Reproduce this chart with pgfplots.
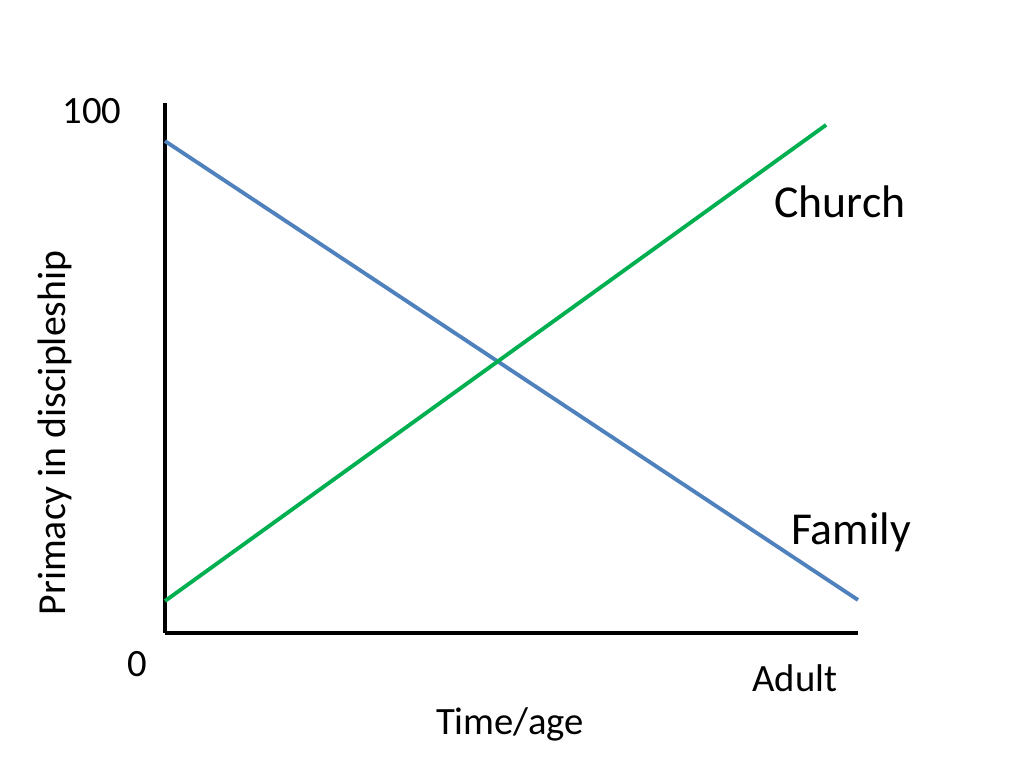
\documentclass[border=0pt]{standalone}
\usepackage{pgfplots}
\pgfplotsset{compat=1.18}
\usepackage{fontspec}
\setmainfont{Carlito}
\definecolor{famblue}{HTML}{4F81BD}
\definecolor{chgreen}{HTML}{00B050}
\begin{document}
\begin{tikzpicture}
  \path (0,0) rectangle (10.24,7.68);
  \begin{axis}[
      at={(1.65cm,1.35cm)}, anchor=south west,
      scale only axis,
      width=6.93cm, height=5.30cm,
      xmin=0, xmax=100, ymin=0, ymax=101.92,
      axis x line=bottom, axis y line=left,
      axis line style={-, line width=1.3pt, black},
      xtick=\empty, ytick=\empty,
      clip=false,
    ]
    % Family
    \addplot[color=famblue, line width=1.1pt] coordinates {(0,94.6) (100,6.35)};
    % Church
    \addplot[color=chgreen, line width=1.1pt] coordinates {(0,6.15) (95.4,97.7)};
  \end{axis}
  \node[anchor=base, font=\fontsize{11}{13}\selectfont] at (0.92,6.44) {100};
  \node[anchor=base, font=\fontsize{11}{13}\selectfont] at (1.37,0.91) {0};
  \node[anchor=base, font=\fontsize{11}{13}\selectfont] at (7.95,0.76) {Adult};
  \node[anchor=base, font=\fontsize{11}{13}\selectfont] at (5.10,0.33) {Time/age};
  \node[rotate=90, font=\fontsize{11.3}{13}\selectfont] at (0.55,3.35) {Primacy in discipleship};
  \node[anchor=base, font=\fontsize{13}{15}\selectfont] at (8.40,5.50) {Church};
  \node[anchor=base, font=\fontsize{13}{15}\selectfont] at (8.51,2.23) {Family};
\end{tikzpicture}
\end{document}
